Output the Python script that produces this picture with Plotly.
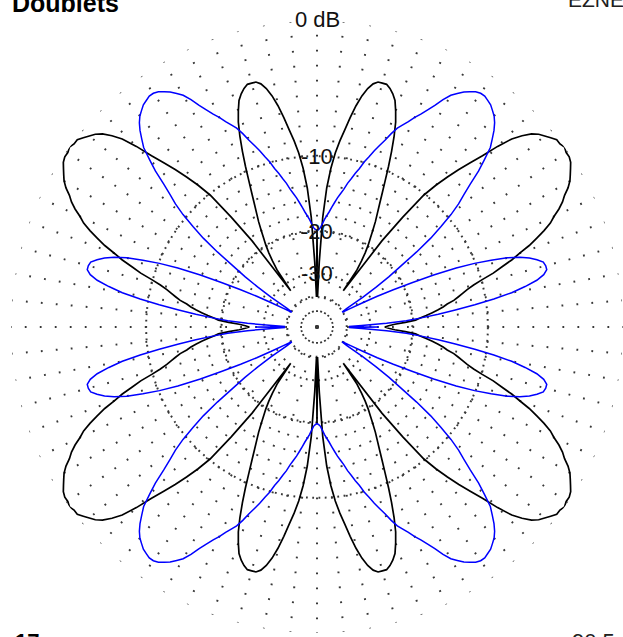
import plotly.graph_objects as go

# Azimuth pattern of the two doublets, one quadrant (0..90 deg, 1 deg steps),
# gain in dB relative to the plot maximum. The pattern is symmetric about
# both axes, so the remaining quadrants are mirrored copies.
black_q1_db = [
    -25.9, -24.9, -23.5, -21.3, -19.4, -18.6, -17.6, -16.7, -15.8, -15.0,
    -14.4, -13.5, -12.9, -12.3, -11.7, -10.9, -9.9, -8.7, -7.8, -6.8,
    -6.0, -5.1, -4.4, -3.7, -3.1, -2.7, -2.2, -1.8, -1.5, -1.1,
    -0.8, -0.6, -0.4, -0.2, -0.1, -0.1, 0.0, -0.1, -0.1, -0.3,
    -0.5, -0.7, -1.0, -1.5, -2.1, -3.1, -4.3, -5.3, -6.3, -7.4,
    -8.6, -10.1, -13.5, -17.9, -33.0, -25.4, -23.1, -21.3, -19.8, -18.6,
    -17.3, -16.0, -14.9, -13.7, -12.4, -11.0, -9.5, -8.1, -6.8, -5.7,
    -4.9, -4.2, -3.8, -3.5, -3.3, -3.3, -3.3, -3.5, -3.9, -4.5,
    -5.3, -6.3, -7.4, -8.4, -9.6, -11.2, -13.5, -17.6, -26.6, -39.9,
    -19.8,
]
blue_q1_db = [
    -27.5, -38.8, -33.0, -25.4, -21.1, -18.4, -15.8, -13.5, -11.2, -9.2,
    -7.5, -6.3, -5.3, -4.7, -4.4, -4.4, -4.5, -4.9, -5.4, -6.1,
    -7.1, -8.5, -10.1, -12.1, -15.0, -18.4, -22.0, -25.9, -30.5, -35.9,
    -39.9, -39.9, -37.3, -29.5, -24.9, -21.4, -18.6, -15.4, -12.9, -11.2,
    -9.6, -8.4, -7.5, -6.5, -5.3, -4.4, -3.5, -3.0, -2.5, -2.1,
    -1.8, -1.6, -1.4, -1.3, -1.2, -1.2, -1.3, -1.5, -1.7, -2.0,
    -2.3, -2.8, -3.4, -3.9, -4.4, -4.8, -5.3, -5.7, -6.1, -6.7,
    -7.4, -8.0, -8.6, -9.3, -9.9, -10.7, -11.3, -12.0, -12.6, -13.4,
    -14.0, -14.6, -15.3, -16.0, -16.7, -17.3, -17.9, -18.6, -19.3, -19.6,
    -19.8,
]
ring_db = [-10, -20, -30, -40]
ring_labels = ["-10", "-20", "-30"]
outer_label = "0 dB"
title_text = "Doublets"
program_text = "EZNEC"
left_footer = "17"
right_footer = "90.5"

W, H = 623, 637
CX, CY, R = 317, 327, 306          # plot centre and outer-ring radius, px
FONT = "Liberation Sans, Arial, sans-serif"
DOT_COLOR = "#383838"


def arrl(db):
    """ARRL log radial scale: radius shrinks by 0.89 for every 2 dB."""
    return 0.89 ** (-db / 2.0)


def full_circle(q):
    half = q + q[-2::-1]           # 0..180 deg
    return half + half[1:]         # 0..360 deg


def domain(radius):
    return dict(x=[(CX - radius) / W, min(1.0, (CX + radius) / W)],
                y=[(H - CY - radius) / H, (H - CY + radius) / H])


theta = list(range(0, 361))
black_r = [arrl(v) for v in full_circle(black_q1_db)]
blue_r = [arrl(v) for v in full_circle(blue_q1_db)]

inner_frac = arrl(-20)             # radial spokes thin out inside the -20 dB ring
hidden = dict(showticklabels=False, ticks="", showline=False)

fig = go.Figure()
fig.add_trace(go.Scatterpolar(r=[], theta=[], subplot="polar", showlegend=False))
fig.add_trace(go.Scatterpolar(r=[], theta=[], subplot="polar2", showlegend=False))
fig.add_trace(go.Scatterpolar(r=black_r, theta=theta, mode="lines", subplot="polar3",
                              line=dict(color="#000000", width=1.7), showlegend=False,
                              hoverinfo="skip"))
fig.add_trace(go.Scatterpolar(r=blue_r, theta=theta, mode="lines", subplot="polar3",
                              line=dict(color="#0000ff", width=1.5), showlegend=False,
                              hoverinfo="skip"))

fig.update_layout(
    width=W, height=H,
    margin=dict(l=0, r=0, t=0, b=0),
    paper_bgcolor="white",
    plot_bgcolor="white",
    showlegend=False,
    # outer ring and 5-degree spokes outside the -20 dB ring
    polar=dict(
        domain=domain(R),
        hole=inner_frac,
        bgcolor="white",
        radialaxis=dict(range=[0, 1], tickvals=[0.996], gridcolor=DOT_COLOR, gridwidth=1.8,
                        griddash="1.8px,11.7px", **hidden),
        angularaxis=dict(rotation=0, direction="counterclockwise", tickmode="linear",
                         tick0=0, dtick=5, gridcolor=DOT_COLOR, gridwidth=1.8,
                         griddash="1.8px,13.2px", **hidden),
    ),
    # 15-degree spokes inside the -20 dB ring
    polar2=dict(
        domain=domain(R * inner_frac),
        bgcolor="rgba(0,0,0,0)",
        radialaxis=dict(range=[0, 1], showgrid=False, **hidden),
        angularaxis=dict(rotation=0, direction="counterclockwise", tickmode="linear",
                         tick0=0, dtick=15, gridcolor=DOT_COLOR, gridwidth=1.8,
                         griddash="1.8px,13.2px", **hidden),
    ),
    # dB rings and the patterns
    polar3=dict(
        domain=domain(R),
        bgcolor="rgba(0,0,0,0)",
        radialaxis=dict(range=[0, 1], tickvals=[arrl(d) for d in ring_db],
                        gridcolor=DOT_COLOR, gridwidth=1.8, griddash="1.8px,4.5px", **hidden),
        angularaxis=dict(rotation=0, direction="counterclockwise", showgrid=False, **hidden),
    ),
)

font_lbl = dict(family=FONT, size=22, color="#111111")
annotations = [
    dict(text=outer_label, x=CX / W, y=1 - (CY - R - 1) / H, xref="paper", yref="paper",
         showarrow=False, xanchor="center", yanchor="middle", font=font_lbl,
         bgcolor="white", borderpad=0),
]
for d, lab in zip(ring_db, ring_labels):
    annotations.append(dict(text=lab, x=CX / W, y=1 - (CY - R * arrl(d)) / H,
                            xref="paper", yref="paper", showarrow=False,
                            xanchor="center", yanchor="middle", font=font_lbl))
annotations += [
    dict(text="<b>" + title_text + "</b>", x=10 / W, y=1 - 19 / H, xref="paper", yref="paper",
         showarrow=False, xanchor="left", yanchor="bottom",
         font=dict(family=FONT, size=25, color="#000000")),
    dict(text=program_text, x=566 / W, y=1 - 13 / H, xref="paper", yref="paper",
         showarrow=False, xanchor="left", yanchor="bottom",
         font=dict(family=FONT, size=21, color="#202020")),
    dict(text="<b>" + left_footer + "</b>", x=13 / W, y=1 - 627 / H, xref="paper", yref="paper",
         showarrow=False, xanchor="left", yanchor="top",
         font=dict(family=FONT, size=22, color="#000000")),
    dict(text=right_footer, x=570 / W, y=1 - 627 / H, xref="paper", yref="paper",
         showarrow=False, xanchor="left", yanchor="top",
         font=dict(family=FONT, size=22, color="#202020")),
]
fig.update_layout(annotations=annotations)

fig.write_html("out.html")
